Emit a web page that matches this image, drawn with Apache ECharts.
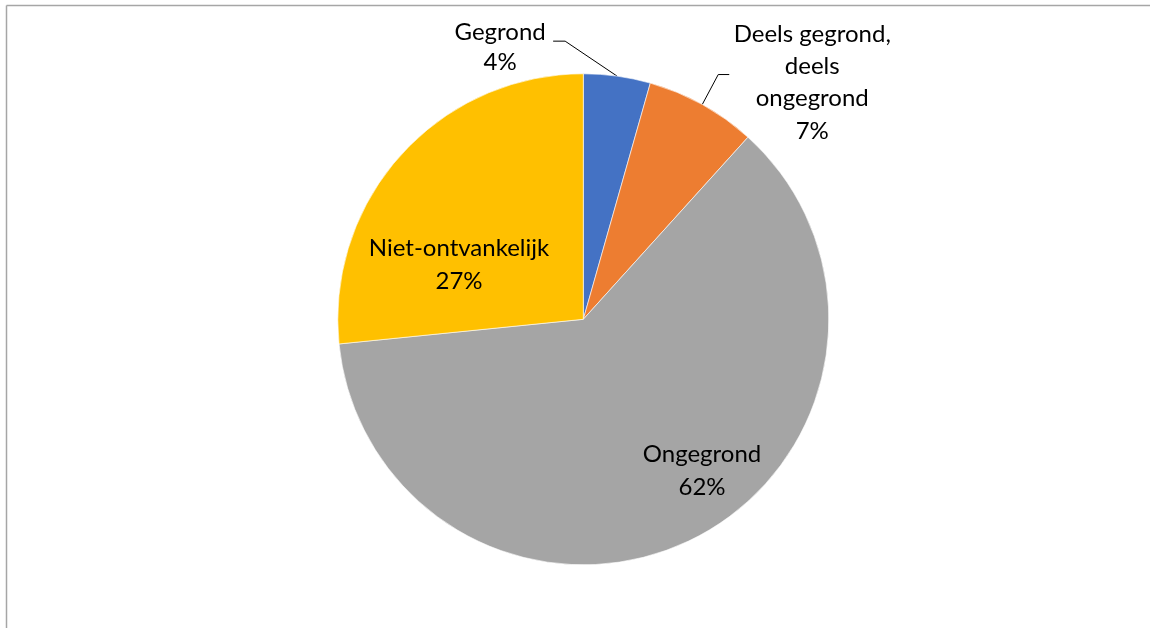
<!DOCTYPE html>
<html>
<head>
<meta charset="utf-8">
<script src="https://cdn.jsdelivr.net/npm/echarts@6/dist/echarts.min.js"></script>
<style>
html,body{margin:0;padding:0;background:#fff;}
#chart{width:1150px;height:628px;}
</style>
</head>
<body>
<div id="chart"></div>
<script>
var categories = ['Gegrond', 'Deels gegrond,\ndeels\nongegrond', 'Ongegrond', 'Niet-ontvankelijk'];
var values = [4.4, 7.3, 61.7, 26.6];
var colors = ['#4472C4', '#ED7D31', '#A5A5A5', '#FFC000'];
var percentLabels = ['4%', '7%', '62%', '27%'];

// label placement offsets (style only)
var labelOffsets = [
  { outside: true, dx: -117, dy: -29, lineDx: -52, lineDy: -35, lineHx: -12, lh: 30 },
  { outside: true, dx: 110, dy: -22, lineDx: 16, lineDy: -30, lineHx: 11, lh: 32.3 },
  { outside: false, dx: 62, dy: 39, lh: 32.5 },
  { outside: false, dx: -31, dy: 30, lh: 32.5 }
];

var chart = echarts.init(document.getElementById('chart'));
var data = categories.map(function (c, i) {
  return {
    name: c,
    value: values[i],
    itemStyle: { color: colors[i] },
    label: { position: labelOffsets[i].outside ? 'outside' : 'inside', lineHeight: labelOffsets[i].lh },
    labelLine: { show: labelOffsets[i].outside }
  };
});

chart.setOption({
  animation: false,
  graphic: [
    { type: 'line', shape: { x1: 6.5, y1: 5.5, x2: 1150, y2: 5.5 }, style: { stroke: '#a6a6a6', lineWidth: 1.5 } },
    { type: 'line', shape: { x1: 6.5, y1: 5.5, x2: 6.5, y2: 628 }, style: { stroke: '#a6a6a6', lineWidth: 1.5 } }
  ],
  series: [{
    type: 'pie',
    center: [583.3, 319.3],
    radius: [0, 245.5],
    startAngle: 90,
    clockwise: true,
    avoidLabelOverlap: false,
    data: data,
    itemStyle: { borderColor: '#ffffff', borderWidth: 0.6 },
    label: {
      show: true,
      formatter: function (p) { return p.name + '\n' + percentLabels[p.dataIndex]; },
      fontFamily: 'Lato',
      fontSize: 24,
      lineHeight: 32,
      color: '#000000',
      align: 'center'
    },
    labelLine: {
      show: true,
      length: 10,
      length2: 10,
      lineStyle: { color: '#000000', width: 1 }
    },
    labelLayout: function (p) {
      var o = labelOffsets[p.dataIndex];
      if (o.outside) {
        var a = p.labelLinePoints[0];
        var mid = [a[0] + o.lineDx, a[1] + o.lineDy];
        var end = [mid[0] + o.lineHx, mid[1]];
        return {
          x: a[0] + o.dx,
          y: a[1] + o.dy,
          align: 'center',
          verticalAlign: 'middle',
          labelLinePoints: [a, mid, end]
        };
      }
      return { dx: o.dx, dy: o.dy };
    }
  }]
});
</script>
</body>
</html>
